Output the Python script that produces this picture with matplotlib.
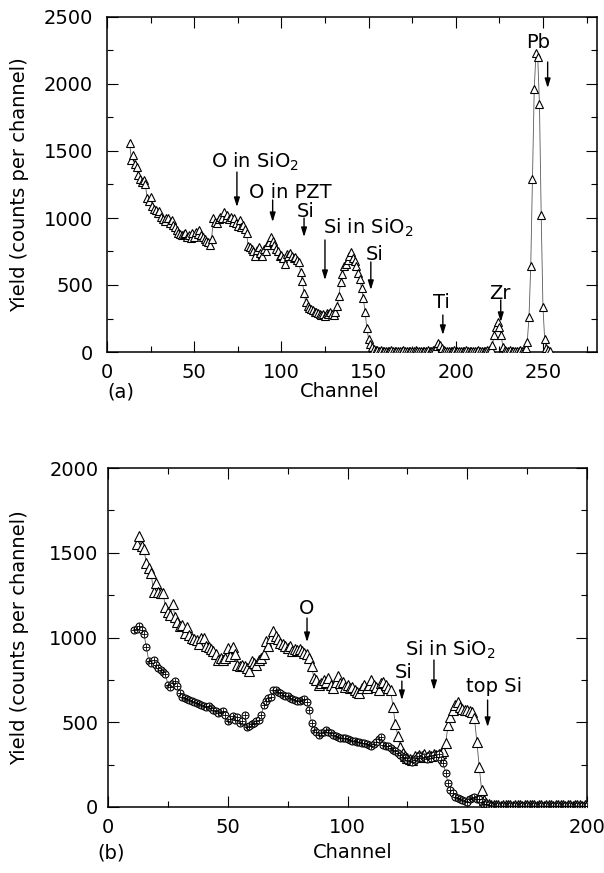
import numpy as np
import matplotlib
matplotlib.use('Agg')
import matplotlib.pyplot as plt
from matplotlib.ticker import MultipleLocator

plt.rcParams['font.family'] = ['DejaVu Sans']
plt.rcParams['mathtext.fontset'] = 'dejavusans'

# ===== DANE (a): widmo RBS, kanaly 13..254 =====
kanal_a = np.arange(13, 255)
yield_a = [
    1560, 1430, 1470, 1400, 1380, 1320, 1290, 1270, 1280, 1250,
    1150, 1130, 1160, 1090, 1070, 1060, 1040, 1050, 1010, 990,
    980, 1000, 1000, 960, 985, 950, 930, 910, 890, 880,
    870, 880, 885, 860, 870, 850, 885, 860, 895, 880,
    910, 870, 860, 845, 830, 820, 800, 845, 1000, 970,
    960, 990, 1010, 1000, 1045, 1000, 1020, 990, 1010, 970,
    1000, 960, 940, 985, 935, 950, 920, 885, 790, 780,
    770, 750, 720, 760, 780, 740, 720, 770, 750, 800,
    820, 860, 830, 800, 770, 750, 720, 725, 700, 660,
    730, 720, 740, 720, 700, 710, 690, 670, 600, 530,
    440, 370, 345, 330, 320, 310, 300, 295, 290, 285,
    275, 280, 265, 290, 285, 300, 280, 275, 300, 340,
    420, 520, 580, 640, 660, 690, 720, 745, 700, 680,
    640, 590, 545, 475, 400, 300, 180, 100, 60, 35,
    20, 15, 12, 10, 12, 9, 10, 11, 8, 10,
    12, 9, 10, 8, 11, 10, 9, 12, 10, 8,
    10, 11, 9, 10, 12, 8, 10, 9, 11, 10,
    9, 12, 10, 11, 14, 20, 45, 65, 50, 30,
    15, 10, 9, 11, 10, 8, 12, 10, 9, 11,
    10, 8, 10, 12, 9, 10, 11, 8, 10, 9,
    12, 10, 9, 11, 10, 12, 15, 20, 50, 130,
    190, 225, 190, 130, 40, 15, 10, 9, 12, 10,
    8, 11, 10, 9, 12, 10, 15, 30, 75, 260,
    640, 1290, 1960, 2230, 2200, 1850, 1020, 335, 95, 30,
    15, 5,
]

# ===== DANE (b): trojkaty kanaly 12..200, kolka kanaly 11..200 =====
kanal_b_tri = np.arange(12, 201)
yield_b_tri = [
    1550, 1600, 1540, 1520, 1440, 1410, 1380, 1270, 1320, 1270,
    1265, 1260, 1180, 1150, 1130, 1200, 1120, 1090, 1070, 1075,
    1025, 1060, 1015, 1000, 990, 985, 960, 1000, 1000, 950,
    945, 930, 920, 900, 870, 880, 870, 880, 940, 890,
    945, 900, 840, 830, 840, 830, 820, 800, 860, 850,
    840, 870, 880, 900, 980, 950, 1000, 1040, 1010, 990,
    970, 960, 950, 940, 950, 920, 935, 925, 930, 920,
    910, 900, 880, 830, 760, 750, 720, 730, 750, 740,
    760, 720, 700, 740, 770, 730, 740, 710, 720, 700,
    710, 690, 680, 670, 700, 720, 700, 720, 750, 720,
    710, 690, 730, 740, 720, 700, 690, 590, 490, 420,
    355, 320, 300, 290, 285, 280, 300, 295, 305, 300,
    310, 295, 305, 300, 310, 305, 315, 320, 330, 377,
    483, 533, 572, 600, 621, 590, 580, 575, 570, 565,
    562, 525, 385, 238, 100, 40, 25, 15, 12, 10,
    9, 10, 8, 10, 9, 11, 10, 8, 10, 9,
    10, 8, 9, 10, 11, 9, 10, 8, 10, 9,
    8, 10, 9, 10, 8, 9, 10, 11, 9, 8,
    10, 9, 8, 10, 9, 10, 8, 9, 10,
]

kanal_b_circ = np.arange(11, 201)
yield_b_circ = [
    1044, 1050, 1068, 1044, 1020, 945, 863, 850, 870, 836,
    820, 807, 797, 787, 720, 710, 730, 745, 714, 670,
    650, 645, 640, 630, 628, 620, 616, 610, 603, 595,
    590, 598, 585, 575, 565, 556, 560, 565, 540, 505,
    520, 536, 515, 532, 497, 510, 545, 473, 480, 490,
    497, 505, 516, 540, 600, 625, 641, 650, 690, 692,
    680, 672, 660, 655, 652, 645, 637, 630, 625, 623,
    630, 637, 621, 572, 495, 455, 440, 425, 435, 445,
    454, 440, 435, 425, 420, 415, 410, 408, 405, 400,
    396, 392, 390, 386, 382, 380, 376, 372, 365, 357,
    370, 386, 400, 415, 366, 360, 357, 350, 337, 330,
    317, 305, 295, 288, 280, 272, 268, 280, 290, 298,
    290, 295, 285, 300, 290, 305, 295, 310, 280, 257,
    198, 140, 100, 80, 61, 55, 45, 40, 35, 30,
    45, 55, 60, 50, 45, 30, 20, 15, 10, 8,
    7, 8, 6, 7, 8, 6, 7, 8, 7, 6,
    8, 7, 6, 7, 8, 7, 6, 8, 7, 6,
    7, 8, 6, 7, 8, 7, 6, 7, 8, 6,
    7, 6, 8, 7, 6, 7, 8, 6, 7, 8,
]

# Opisy pikow: (tekst, x tekstu, y tekstu, x strzalki, y poczatku, y konca)
opisy_a = [
    ('O in SiO$_2$', 85, 1418, 74.5, 1343, 1082),
    ('O in PZT', 105.4, 1187, 95, 1134, 970),
    ('Si', 114, 1045, 113, 1000, 858),
    ('Si in SiO$_2$', 149.6, 925, 125, 836, 537),
    ('Si', 153.6, 731, 151.3, 672, 463),
    ('Ti', 192, 366, 192.6, 276, 127),
    ('Zr', 225.2, 440, 225.8, 388, 224),
    ('Pb', 247, 2313, 252.7, 2164, 1970),
]
opisy_b = [
    ('O', 83.1, 1174, 83.1, 1115, 973),
    ('Si', 123.6, 796, 122.7, 743, 631),
    ('Si in SiO$_2$', 142.8, 926, 136.1, 867, 690),
    ('top Si', 161, 708, 158.5, 631, 472),
]

FS = 14

fig = plt.figure(figsize=(6.04, 8.73), dpi=100)
ax1 = fig.add_axes([107 / 604, 1 - 352 / 873, 490 / 604, 335 / 873])
ax2 = fig.add_axes([108 / 604, 1 - 807 / 873, 479 / 604, 339 / 873])


def styl_osi(ax, ypad):
    ax.tick_params(which='both', direction='in', top=True, right=True,
                   width=0.8, labelsize=FS)
    ax.tick_params(which='major', length=8)
    ax.tick_params(which='minor', length=4.5)
    ax.tick_params(axis='y', pad=ypad)
    ax.tick_params(axis='x', pad=8)
    ax.xaxis.set_major_locator(MultipleLocator(50))
    ax.xaxis.set_minor_locator(MultipleLocator(25))
    ax.yaxis.set_major_locator(MultipleLocator(500))
    ax.yaxis.set_minor_locator(MultipleLocator(250))
    for s in ax.spines.values():
        s.set_linewidth(1.1)


def strzalki(ax, opisy):
    for tekst, tx, ty, ax_x, y0, y1 in opisy:
        ax.text(tx, ty, tekst, ha='center', va='center', fontsize=FS)
        ax.annotate('', xy=(ax_x, y1), xytext=(ax_x, y0),
                    arrowprops=dict(arrowstyle='-|>,head_length=0.55,head_width=0.17',
                                    color='k', lw=1.0, shrinkA=0, shrinkB=0))


# ===== WYKRES (a) =====
ax1.plot(kanal_a, yield_a, '-', color='0.35', lw=0.6, zorder=2)
ax1.plot(kanal_a, yield_a, '^', ms=5.5, mfc='white', mec='k', mew=0.8,
         linestyle='none', zorder=3)
ax1.set_xlim(0, 281)
ax1.set_ylim(0, 2500)
styl_osi(ax1, 10)
strzalki(ax1, opisy_a)

# ===== WYKRES (b) =====
ax2.plot(kanal_b_tri, yield_b_tri, '-', color='0.35', lw=0.6, zorder=2)
ax2.plot(kanal_b_circ, yield_b_circ, '-', color='0.35', lw=0.6, zorder=2)
ax2.plot(kanal_b_tri, yield_b_tri, '^', ms=6.5, mfc='white', mec='k', mew=0.8,
         linestyle='none', zorder=3)
ax2.plot(kanal_b_circ, yield_b_circ, 'o', ms=5, mfc='white', mec='k', mew=0.8,
         linestyle='none', zorder=4)
ax2.plot(kanal_b_circ, yield_b_circ, '+', ms=5, mec='k', mew=0.6,
         linestyle='none', zorder=5)
ax2.set_xlim(0, 200)
ax2.set_ylim(0, 2000)
styl_osi(ax2, 7)
strzalki(ax2, opisy_b)

# Podpisy osi
fig.text(20 / 604, 1 - 185 / 873, 'Yield (counts per channel)', rotation=90,
         ha='center', va='center', fontsize=FS)
fig.text(20 / 604, 1 - 638 / 873, 'Yield (counts per channel)', rotation=90,
         ha='center', va='center', fontsize=FS)
fig.text(121 / 604, 1 - 392 / 873, '(a)', ha='center', va='center', fontsize=FS)
fig.text(340 / 604, 1 - 392 / 873, 'Channel', ha='center', va='center', fontsize=FS)
fig.text(111 / 604, 1 - 853 / 873, '(b)', ha='center', va='center', fontsize=FS)
fig.text(353 / 604, 1 - 853 / 873, 'Channel', ha='center', va='center', fontsize=FS)

fig.savefig('out.png', dpi=100)
